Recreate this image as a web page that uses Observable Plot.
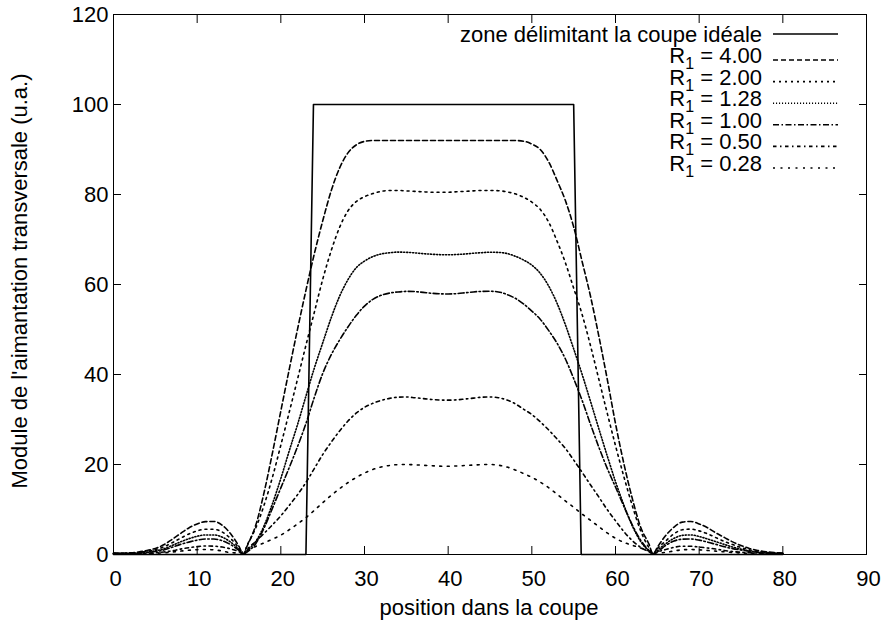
<!DOCTYPE html>
<html><head><meta charset="utf-8">
<script src="https://cdn.jsdelivr.net/npm/d3@7"></script>
<script src="https://cdn.jsdelivr.net/npm/@observablehq/plot@0.6"></script>
<style>body{margin:0;background:#fff}svg{display:block}</style>
</head><body><div id="chart"></div>
<script>
// position dans la coupe (sample positions)
const positions = [0,1,2,3,4,5,6,7,8,9,10,11,12,13,14,15,15.5,16,17,18,19,20,21,22,23,24,25,26,27,28,29,30,
  31,32,33,34,35,36,37,38,39,40,41,42,43,44,45,46,47,48,49,50,51,52,53,54,55,56,57,58,59,60,61,62,63,64,64.5,
  65,66,67,68,69,70,71,72,73,74,75,76,77,78,79,80];

const r400 = [0.3,0.3,0.38,0.55,0.9,1.35,2.15,3.35,4.65,5.9,6.8,7.3,7.35,6.5,4.6,1.8,0.1,2.0,6.5,13.8,22.6,31.9,41.1,50.1,58.7,66.8,74.1,80.7,85.8,89.2,91.0,91.8,
  92,92,92,92,92,92,92,92,92,92,92,92,92,92,92,92,92,92,91.85,91.2,90.0,87.3,83.2,78.7,72.8,65.2,57.5,48.6,39.1,29.1,20.2,12.5,6.1,2.3,0.1,
  1.6,4.2,6.1,7.2,7.35,6.8,5.95,4.8,3.8,2.8,2.0,1.35,0.9,0.6,0.43,0.33];
const r200 = [0.25,0.25,0.3,0.45,0.72,1.1,1.7,2.6,3.6,4.55,5.25,5.62,5.6,5.0,3.55,1.4,0.1,2.2,5.9,11.0,17.2,24.3,31.6,39.0,46.5,53.8,61.1,67.4,72.6,76.3,78.4,79.5,
  80.2,80.7,80.9,80.9,80.8,80.7,80.6,80.5,80.5,80.5,80.6,80.7,80.8,80.9,80.9,80.85,80.6,80.15,79.4,78.3,76.7,73.9,69.7,64.9,59.2,53.4,46.5,39.0,31.5,24.2,17.3,10.9,5.3,1.5,0.1,
  1.3,3.0,4.6,5.5,5.65,5.25,4.6,3.75,2.9,2.2,1.55,1.05,0.7,0.45,0.33,0.3];
const r128 = [0.2,0.2,0.25,0.36,0.55,0.82,1.27,2.0,2.8,3.5,4.05,4.35,4.35,3.85,2.75,1.1,0.1,0.9,2.9,6.4,11.3,16.9,23.0,28.9,35.2,41.4,47.0,52.5,57.3,61.0,63.7,65.2,
  66.2,66.8,67.05,67.2,67.15,67.03,66.85,66.73,66.63,66.6,66.67,66.77,66.95,67.07,67.17,67.13,66.9,66.3,65.45,64.3,62.5,59.7,55.9,51.1,45.7,40.1,34.1,28.0,22.0,16.2,11.0,6.4,2.9,0.8,0.1,
  0.9,2.4,3.6,4.25,4.35,4.0,3.45,2.85,2.25,1.65,1.2,0.8,0.55,0.35,0.26,0.25];
const r100 = [0.2,0.2,0.2,0.27,0.45,0.65,1.0,1.6,2.25,2.75,3.2,3.45,3.45,3.05,2.2,0.9,0.1,0.6,2.4,5.9,10.3,14.8,19.3,24.0,29.1,34.9,40.2,44.3,47.6,50.5,53.1,55.2,
  56.7,57.6,58.1,58.35,58.47,58.43,58.25,58.05,57.93,57.9,57.97,58.15,58.35,58.47,58.5,58.35,57.8,56.95,55.7,54.1,52.3,49.8,47.0,43.5,39.1,34.3,29.0,23.9,19.2,15.0,10.7,6.6,3.2,0.9,0.1,
  0.6,2.0,3.0,3.4,3.45,3.2,2.75,2.25,1.75,1.3,1.0,0.7,0.45,0.33,0.23,0.2];
const r050 = [0.15,0.15,0.19,0.24,0.29,0.37,0.55,0.82,1.2,1.5,1.75,1.88,1.85,1.65,1.25,0.6,0.1,1.2,2.9,4.7,6.6,8.6,10.9,13.3,16.0,19.1,22.2,24.9,27.4,29.6,31.4,32.7,
  33.6,34.25,34.7,34.95,35,34.85,34.65,34.45,34.33,34.3,34.37,34.55,34.75,34.95,35,34.85,34.35,33.5,32.3,31.1,29.5,27.7,25.7,23.6,21.0,18.3,15.5,12.8,10.0,7.5,5.1,3.1,1.6,0.6,0.1,
  0.55,1.1,1.6,1.85,1.83,1.65,1.45,1.2,0.9,0.65,0.5,0.38,0.31,0.26,0.21,0.2];
const r028 = [0.1,0.1,0.1,0.14,0.19,0.27,0.37,0.55,0.75,0.95,1.07,1.1,1.03,0.78,0.4,0.35,0.6,1.0,1.8,2.6,3.4,4.3,5.5,6.8,8.2,9.8,11.5,13.1,14.6,15.95,17.1,18.1,
  18.9,19.45,19.8,19.97,20,19.93,19.83,19.73,19.63,19.6,19.67,19.77,19.87,19.97,20,19.85,19.45,18.8,18.0,17.15,16.1,14.85,13.4,11.9,10.5,9.0,7.6,6.2,4.8,3.6,2.7,2.05,1.45,0.8,0.5,
  0.38,0.45,0.8,1.05,1.1,1.03,0.9,0.74,0.6,0.44,0.33,0.26,0.21,0.16,0.15,0.15];

// zone délimitant la coupe idéale
const idealX = [0, 23, 23.9, 55, 55.9, 80];
const idealY = [0, 0, 100, 100, 0, 0];

const seriesLabels = ["4.00", "2.00", "1.28", "1.00", "0.50", "0.28"];
const seriesValues = [r400, r200, r128, r100, r050, r028];
const xTicks = [0,10,20,30,40,50,60,70,80,90];
const yTicks = [0,20,40,60,80,100,120];

const dashes = ["5,3", "2,4", "1.1,1.9", "6,2.5,1.5,2.5", "3.5,3.5,1.5,3.5", "2,5.5"];
const SW = 1.6;

const idealRows = idealX.map((x, i) => ({x, y: idealY[i]}));
const seriesRows = seriesValues.map(vals => vals.map((y, i) => ({x: positions[i], y})));

const lineMarks = seriesRows.map((rows, k) =>
  Plot.line(rows, {x: "x", y: "y", stroke: "black", strokeWidth: SW, strokeDasharray: dashes[k], curve: "monotone-x"}));

const FONT = "'Liberation Sans', Arial, Helvetica, sans-serif";
const FS = 22;

const svg = Plot.plot({
  width: 882, height: 628,
  marginLeft: 113, marginRight: 16, marginTop: 14, marginBottom: 74,
  style: {fontFamily: FONT, fontSize: FS + "px", color: "black", background: "white"},
  x: {domain: [0, 90]},
  y: {domain: [0, 120]},
  marks: [
    Plot.line(idealRows, {x: "x", y: "y", stroke: "black", strokeWidth: SW}),
    ...lineMarks,
    Plot.frame({stroke: "black", strokeWidth: 1}),
    Plot.axisX({anchor: "bottom", ticks: xTicks, tickSize: 8, dy: -8, tickFormat: () => "", label: null}),
    Plot.axisX({anchor: "top", ticks: xTicks, tickSize: 8, dy: 8, tickFormat: () => "", label: null}),
    Plot.axisY({anchor: "left", ticks: yTicks, tickSize: 8, dx: 8, tickFormat: () => "", label: null}),
    Plot.axisY({anchor: "right", ticks: yTicks, tickSize: 8, dx: -8, tickFormat: () => "", label: null}),
    Plot.axisX({anchor: "bottom", ticks: xTicks, tickSize: 0, tickPadding: 16, dx: 2, label: null, fontSize: FS}),
    Plot.axisY({anchor: "left", ticks: yTicks, tickSize: 0, tickPadding: 5, label: null, fontSize: FS})
  ]
});

document.getElementById("chart").appendChild(svg);

const s = d3.select(svg);
// axis titles
s.append("text").attr("x", 489).attr("y", 615).attr("text-anchor", "middle")
  .attr("font-family", FONT).attr("font-size", FS).attr("fill", "black").text("position dans la coupe");
s.append("text").attr("transform", "translate(27,281) rotate(-90)").attr("text-anchor", "middle")
  .attr("font-family", FONT).attr("font-size", FS).attr("fill", "black").text("Module de l'aimantation transversale (u.a.)");

// legend
const lg = s.append("g").attr("font-family", FONT).attr("font-size", FS).attr("fill", "black");
const textX = 762, l1 = 773, l2 = 838;
lg.append("text").attr("x", textX).attr("y", 42).attr("text-anchor", "end").text("zone délimitant la coupe idéale");
lg.append("line").attr("x1", l1).attr("x2", l2).attr("y1", 34).attr("y2", 34).attr("stroke", "black").attr("stroke-width", SW);
seriesLabels.forEach((lab, k) => {
  const base = 63 + k * 21.6;
  const t = lg.append("text").attr("x", textX).attr("y", base).attr("text-anchor", "end");
  t.append("tspan").text("R");
  t.append("tspan").attr("font-size", 16).attr("dy", 6).text("1");
  t.append("tspan").attr("dy", -6).text(" = " + lab);
  lg.append("line").attr("x1", l1).attr("x2", l2).attr("y1", base - 3).attr("y2", base - 3)
    .attr("stroke", "black").attr("stroke-width", SW).attr("stroke-dasharray", dashes[k]);
});
</script></body></html>
